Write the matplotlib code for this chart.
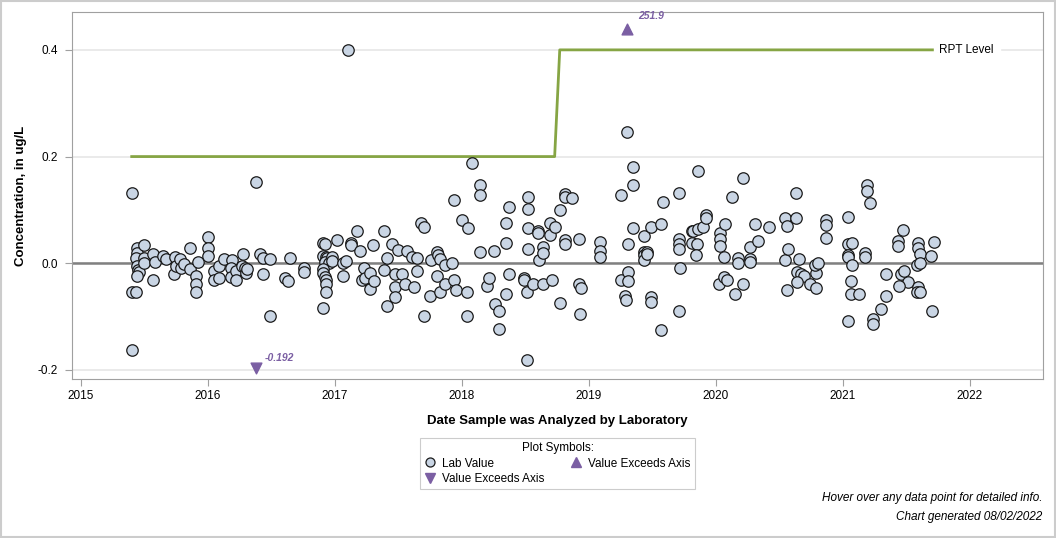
import matplotlib
matplotlib.use('Agg')
import matplotlib.pyplot as plt
from matplotlib.lines import Line2D
import numpy as np

plt.rcParams['font.family'] = ['Liberation Sans', 'DejaVu Sans']

# decimal year of lab analysis, concentration in ug/L
sample_dates = [
    2015.40, 2015.40, 2015.40, 2015.43, 2015.44, 2015.44, 2015.43, 2015.44, 2015.45, 2015.46,
    2015.44, 2015.50, 2015.50, 2015.50, 2015.57, 2015.58, 2015.57, 2015.65, 2015.67, 2015.73,
    2015.74, 2015.75, 2015.78, 2015.79, 2015.81, 2015.86, 2015.86, 2015.92, 2015.91, 2015.91,
    2015.91, 2016.00, 2016.00, 2016.00, 2016.05, 2016.05, 2016.09, 2016.09, 2016.13, 2016.19,
    2016.18, 2016.18, 2016.22, 2016.22, 2016.28, 2016.27, 2016.29, 2016.30, 2016.31, 2016.38,
    2016.41, 2016.43, 2016.43, 2016.49, 2016.49, 2016.61, 2016.63, 2016.65, 2016.76, 2016.76,
    2016.91, 2016.92, 2016.91, 2016.93, 2016.94, 2016.92, 2016.95, 2016.91, 2016.91, 2016.92,
    2016.93, 2016.93, 2016.93, 2016.91, 2016.98, 2016.98, 2017.02, 2017.06, 2017.09, 2017.06,
    2017.10, 2017.13, 2017.13, 2017.17, 2017.20, 2017.21, 2017.23, 2017.24, 2017.28, 2017.28,
    2017.31, 2017.30, 2017.39, 2017.39, 2017.41, 2017.41, 2017.45, 2017.47, 2017.53, 2017.47,
    2017.55, 2017.47, 2017.50, 2017.57, 2017.61, 2017.65, 2017.62, 2017.65, 2017.68, 2017.70,
    2017.70, 2017.75, 2017.76, 2017.80, 2017.81, 2017.83, 2017.80, 2017.83, 2017.87, 2017.87,
    2017.92, 2017.94, 2017.94, 2017.95, 2018.00, 2018.04, 2018.04, 2018.05, 2018.08, 2018.14,
    2018.14, 2018.14, 2018.20, 2018.21, 2018.25, 2018.26, 2018.29, 2018.29, 2018.35, 2018.35,
    2018.35, 2018.37, 2018.37, 2018.49, 2018.49, 2018.51, 2018.51, 2018.52, 2018.52, 2018.52,
    2018.52, 2018.56, 2018.60, 2018.60, 2018.61, 2018.64, 2018.64, 2018.64, 2018.69, 2018.69,
    2018.71, 2018.73, 2018.77, 2018.77, 2018.81, 2018.81, 2018.81, 2018.81, 2018.87, 2018.92,
    2018.92, 2018.94, 2018.93, 2019.09, 2019.09, 2019.09, 2019.25, 2019.25, 2019.28, 2019.29,
    2019.30, 2019.31, 2019.31, 2019.31, 2019.35, 2019.35, 2019.35, 2019.43, 2019.43, 2019.43,
    2019.43, 2019.46, 2019.46, 2019.49, 2019.49, 2019.49, 2019.57, 2019.57, 2019.58, 2019.71,
    2019.71, 2019.71, 2019.71, 2019.72, 2019.71, 2019.81, 2019.82, 2019.86, 2019.90, 2019.81,
    2019.85, 2019.84, 2019.86, 2019.92, 2019.92, 2020.03, 2020.03, 2020.03, 2020.06, 2020.07,
    2020.02, 2020.06, 2020.09, 2020.13, 2020.15, 2020.17, 2020.17, 2020.21, 2020.21, 2020.27,
    2020.27, 2020.27, 2020.31, 2020.33, 2020.42, 2020.54, 2020.56, 2020.54, 2020.57, 2020.56,
    2020.63, 2020.63, 2020.65, 2020.64, 2020.67, 2020.69, 2020.64, 2020.74, 2020.79, 2020.79,
    2020.78, 2020.80, 2020.87, 2020.87, 2020.87, 2021.04, 2021.04, 2021.07, 2021.04, 2021.04,
    2021.07, 2021.06, 2021.06, 2021.13, 2021.04, 2021.17, 2021.17, 2021.19, 2021.19, 2021.21,
    2021.24, 2021.24, 2021.30, 2021.34, 2021.34, 2021.47, 2021.43, 2021.43, 2021.46, 2021.48,
    2021.51, 2021.44, 2021.59, 2021.59, 2021.61, 2021.58, 2021.61, 2021.59, 2021.58, 2021.61,
    2021.72, 2021.69, 2021.70,
]
concentrations = [
    0.131, -0.163, -0.053, -0.053, 0.028, 0.019, 0.009, -0.006, -0.013, -0.017,
    -0.023, 0.034, 0.009, 0.000, 0.017, 0.002, -0.032, 0.013, 0.008, -0.021,
    0.011, -0.006, 0.008, -0.008, -0.002, 0.028, -0.011, 0.002, -0.023, -0.039,
    -0.054, 0.049, 0.028, 0.013, -0.015, -0.032, -0.006, -0.028, 0.008, 0.006,
    -0.009, -0.026, -0.015, -0.032, 0.017, -0.006, -0.008, -0.019, -0.011, 0.152,
    0.017, 0.009, -0.021, 0.008, -0.098, -0.028, -0.034, 0.009, -0.009, -0.017,
    0.038, 0.037, 0.013, 0.011, 0.009, 0.002, 0.000, -0.011, -0.019, -0.026,
    -0.032, -0.039, -0.053, -0.083, 0.011, 0.004, 0.043, 0.000, 0.004, -0.023,
    0.400, 0.038, 0.034, 0.060, 0.023, -0.032, -0.009, -0.028, -0.019, -0.049,
    -0.034, 0.034, 0.060, -0.013, 0.009, -0.081, 0.036, -0.021, -0.021, -0.045,
    -0.039, -0.064, 0.024, 0.023, 0.011, 0.009, -0.045, -0.015, 0.075, 0.068,
    -0.099, -0.062, 0.006, 0.021, 0.015, 0.008, -0.023, -0.054, -0.038, -0.004,
    0.000, 0.118, -0.032, -0.051, 0.081, -0.053, -0.099, 0.066, 0.188, 0.146,
    0.128, 0.021, -0.043, -0.028, 0.023, -0.077, -0.090, -0.124, 0.075, 0.038,
    -0.058, 0.105, -0.021, -0.028, -0.032, -0.054, -0.182, 0.124, 0.101, 0.066,
    0.026, -0.038, 0.060, 0.056, 0.006, 0.030, 0.019, -0.038, 0.075, 0.053,
    -0.032, 0.068, 0.099, -0.075, 0.129, 0.124, 0.043, 0.036, 0.122, 0.045,
    -0.038, -0.047, -0.096, 0.039, 0.023, 0.011, 0.128, -0.032, -0.062, -0.068,
    0.246, 0.036, -0.017, -0.034, 0.066, 0.180, 0.146, 0.051, 0.021, 0.015,
    0.006, 0.021, 0.017, 0.068, -0.064, -0.073, -0.126, 0.073, 0.114, 0.131,
    0.045, 0.036, 0.026, -0.008, -0.090, 0.060, 0.060, 0.064, 0.068, 0.038,
    0.036, 0.015, 0.173, 0.090, 0.084, 0.056, 0.045, 0.032, 0.011, 0.073,
    -0.039, -0.026, -0.032, 0.124, -0.058, 0.009, 0.000, 0.159, -0.038, 0.030,
    0.008, 0.002, 0.073, 0.041, 0.068, 0.084, 0.069, 0.006, 0.026, -0.051,
    0.131, 0.084, 0.008, -0.017, -0.021, -0.024, -0.036, -0.039, -0.047, -0.019,
    -0.004, 0.000, 0.081, 0.071, 0.047, 0.086, 0.036, 0.038, 0.015, 0.011,
    -0.004, -0.034, -0.058, -0.058, -0.109, 0.019, 0.011, 0.146, 0.135, 0.113,
    -0.105, -0.113, -0.086, -0.021, -0.062, 0.062, 0.041, 0.032, -0.021, -0.015,
    -0.036, -0.043, 0.038, 0.028, 0.017, -0.004, 0.000, -0.045, -0.053, -0.053,
    0.039, 0.013, -0.090,
]

# reporting level step line
rpt_dates = [2015.40, 2018.73, 2018.77, 2021.71]
rpt_levels = [0.2, 0.2, 0.4, 0.4]

# values outside the axis range, drawn at the axis edge
high_date, high_pos, high_label = 2019.30, 0.439, '251.9'
low_date, low_pos, low_label = 2016.38, -0.197, '-0.192'

year_ticks = [2015, 2016, 2017, 2018, 2019, 2020, 2021, 2022]
conc_ticks = [-0.2, 0.0, 0.2, 0.4]

purple = '#7b5fa3'
green = '#86a544'
axcol = '#a0a0a0'

fig = plt.figure(figsize=(10.56, 5.38), dpi=100)
ax = fig.add_axes([0.0682, 0.2955, 0.9195, 0.6822])

ax.set_xlim(2014.93, 2022.575)
ax.set_ylim(-0.217, 0.471)

for y in conc_ticks:
    ax.axhline(y, color='#e6e6e6', lw=1.2, zorder=0)
ax.axhline(0, color='#808080', lw=1.8, zorder=1)

ax.plot(rpt_dates, rpt_levels, color=green, lw=2, zorder=2)
ax.text(rpt_dates[-1] + 0.05, rpt_levels[-1], 'RPT Level', fontsize=8.5,
        va='center', ha='left', zorder=3, backgroundcolor='white')

ax.scatter(sample_dates, concentrations, s=68, facecolor='#c9d5e4',
           edgecolor='#1a1a1a', linewidth=0.9, zorder=4)

ax.scatter([high_date], [high_pos], marker='^', s=60, color=purple, zorder=4)
ax.scatter([low_date], [low_pos], marker='v', s=60, color=purple, zorder=4)
ax.annotate(high_label, (high_date, high_pos), xytext=(8, 7), textcoords='offset points',
            color=purple, fontsize=7.5, fontweight='bold', style='italic')
ax.annotate(low_label, (low_date, low_pos), xytext=(6, 5), textcoords='offset points',
            color=purple, fontsize=7.5, fontweight='bold', style='italic')

ax.set_xticks(year_ticks)
ax.set_xticklabels([str(y) for y in year_ticks])
ax.set_yticks(conc_ticks)
ax.set_yticklabels(['%.1f' % v for v in conc_ticks])
ax.tick_params(axis='both', labelsize=8.5, color=axcol, length=5, pad=3)
ax.tick_params(axis='y', pad=5)
for sp in ax.spines.values():
    sp.set_color(axcol)

ax.set_xlabel('Date Sample was Analyzed by Laboratory', fontsize=9.5, fontweight='bold', labelpad=9)
ax.set_ylabel('Concentration, in ug/L', fontsize=9.5, fontweight='bold', labelpad=8)

handles = [
    Line2D([], [], marker='o', ls='none', markersize=6.5, markerfacecolor='#c9d5e4',
           markeredgecolor='#1a1a1a', markeredgewidth=0.9, label='Lab Value'),
    Line2D([], [], marker='v', ls='none', markersize=7, color=purple, label='Value Exceeds Axis'),
    Line2D([], [], marker='^', ls='none', markersize=7, color=purple, label='Value Exceeds Axis'),
]
leg = fig.legend(handles=handles, ncol=2, title='Plot Symbols:', loc='upper center',
                 bbox_to_anchor=(0.528, 0.197), fontsize=8.5, title_fontsize=8.5,
                 fancybox=False, edgecolor='#c0c0c0', handletextpad=0.5,
                 columnspacing=2.2, labelspacing=0.3, borderpad=0.35, handlelength=1.0)
leg.get_frame().set_linewidth(0.8)

fig.text(0.987, 0.068, 'Hover over any data point for detailed info.', ha='right',
         fontsize=8.5, style='italic')
fig.text(0.987, 0.034, 'Chart generated 08/02/2022', ha='right', fontsize=8.5, style='italic')

fig.patches.append(plt.Rectangle((0.001, 0.002), 0.998, 0.996, transform=fig.transFigure,
                                 fill=False, edgecolor='#cccccc', lw=1.5))

fig.savefig('out.png', dpi=100)
